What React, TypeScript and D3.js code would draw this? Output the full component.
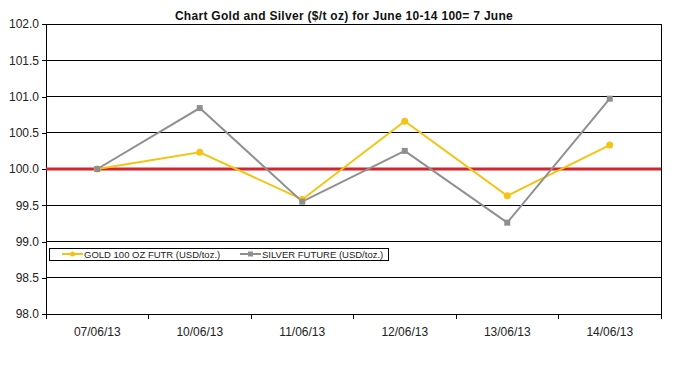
import * as d3 from 'd3'
import { useEffect, useRef } from 'react'

const dates = ['07/06/13', '10/06/13', '11/06/13', '12/06/13', '13/06/13', '14/06/13']
const gold = [100.0, 100.23, 99.58, 100.66, 99.63, 100.33]
const silver = [100.0, 100.84, 99.55, 100.25, 99.26, 100.97]
const yTicks = [98.0, 98.5, 99.0, 99.5, 100.0, 100.5, 101.0, 101.5, 102.0]

const W = 680
const H = 368
const margin = { top: 24, right: 19, bottom: 54, left: 46 }
const goldColor = '#f4c414'
const silverColor = '#8f8f8f'

export default function App() {
    const svgRef = useRef(null) as any

    useEffect(() => {
        const svg = d3.select(svgRef.current)
        svg.selectAll('*').remove()

        const x = d3.scaleBand().domain(dates).range([margin.left, W - margin.right])
        const y = d3.scaleLinear().domain([98, 102]).range([H - margin.bottom, margin.top])
        const cx = (d: string) => (x(d) as number) + x.bandwidth() / 2

        svg.append('rect').attr('width', W).attr('height', H).attr('fill', '#fff')

        // gridlines
        svg.append('g')
            .selectAll('line')
            .data(yTicks)
            .enter().append('line')
            .attr('x1', margin.left).attr('x2', W - margin.right)
            .attr('y1', d => y(d)).attr('y2', d => y(d))
            .attr('stroke', '#000').attr('stroke-width', 1)
            .attr('shape-rendering', 'crispEdges')

        // right border
        svg.append('line')
            .attr('x1', W - margin.right).attr('x2', W - margin.right)
            .attr('y1', margin.top).attr('y2', H - margin.bottom)
            .attr('stroke', '#000').attr('shape-rendering', 'crispEdges')

        const yAxis = d3.axisLeft(y).tickValues(yTicks).tickFormat(d3.format('.1f')).tickSize(4).tickPadding(3)
        const gy = svg.append('g').attr('transform', `translate(${margin.left},0)`).call(yAxis)

        const xAxis = d3.axisBottom(x).tickSize(0).tickPadding(13)
        const gx = svg.append('g').attr('transform', `translate(0,${H - margin.bottom})`).call(xAxis)
        gx.selectAll('.tick').attr('transform', (d: any) => `translate(${cx(d)},0)`)
        // category boundary ticks
        const bounds = dates.map(d => x(d) as number).concat([W - margin.right])
        gx.selectAll('line.bound')
            .data(bounds)
            .enter().append('line')
            .attr('class', 'bound')
            .attr('x1', d => d).attr('x2', d => d)
            .attr('y1', 0).attr('y2', 5)
            .attr('stroke', '#000').attr('shape-rendering', 'crispEdges')

        for (const g of [gx, gy]) {
            g.selectAll('path').attr('stroke', '#000').attr('shape-rendering', 'crispEdges')
            g.selectAll('.tick line').attr('stroke', '#000').attr('shape-rendering', 'crispEdges')
            g.selectAll('text')
                .attr('fill', '#222')
                .style('font-family', 'Liberation Sans, Arial, sans-serif')
                .style('font-size', '12px')
        }

        // baseline at 100
        svg.append('line')
            .attr('x1', margin.left).attr('x2', W - margin.right)
            .attr('y1', y(100)).attr('y2', y(100))
            .attr('stroke', '#d5252c').attr('stroke-width', 3)

        const line = d3.line<number>().x((_, i) => cx(dates[i])).y(d => y(d))

        svg.append('path').datum(gold)
            .attr('d', line).attr('fill', 'none')
            .attr('stroke', goldColor).attr('stroke-width', 2)
        svg.append('path').datum(silver)
            .attr('d', line).attr('fill', 'none')
            .attr('stroke', silverColor).attr('stroke-width', 2)

        svg.selectAll('circle.gold')
            .data(gold)
            .enter().append('circle')
            .attr('class', 'gold')
            .attr('cx', (_, i) => cx(dates[i])).attr('cy', d => y(d))
            .attr('r', 3.5).attr('fill', goldColor)
        svg.selectAll('rect.silver')
            .data(silver)
            .enter().append('rect')
            .attr('class', 'silver')
            .attr('x', (_, i) => cx(dates[i]) - 3).attr('y', d => y(d) - 3)
            .attr('width', 6).attr('height', 6).attr('fill', silverColor)

        // legend
        const lg = svg.append('g').attr('transform', 'translate(49,248)')
        lg.append('rect').attr('width', 339).attr('height', 12)
            .attr('fill', '#fff').attr('stroke', '#000').attr('shape-rendering', 'crispEdges')
        const items = [
            { label: 'GOLD 100 OZ FUTR (USD/toz.)', color: goldColor, x: 13, kind: 'circle' },
            { label: 'SILVER FUTURE (USD/toz.)', color: silverColor, x: 191, kind: 'rect' },
        ]
        items.forEach(it => {
            lg.append('line').attr('x1', it.x).attr('x2', it.x + 21).attr('y1', 6).attr('y2', 6)
                .attr('stroke', it.color).attr('stroke-width', 2)
            if (it.kind === 'circle') {
                lg.append('circle').attr('cx', it.x + 10.5).attr('cy', 6).attr('r', 2.5).attr('fill', it.color)
            } else {
                lg.append('rect').attr('x', it.x + 8).attr('y', 3.5).attr('width', 5).attr('height', 5).attr('fill', it.color)
            }
            lg.append('text').attr('x', it.x + 22).attr('y', 10)
                .text(it.label)
                .attr('fill', '#222')
                .style('font-family', 'Liberation Sans, Arial, sans-serif')
                .style('font-size', '9.5px')
        })

        svg.append('text')
            .attr('x', 344).attr('y', 20)
            .attr('text-anchor', 'middle')
            .text('Chart  Gold and Silver ($/t oz) for June 10-14 100= 7 June')
            .attr('fill', '#111')
            .style('font-family', 'Liberation Sans, Arial, sans-serif')
            .style('font-size', '12px')
            .style('font-weight', 'bold')
            .style('letter-spacing', '0.3px')
    }, [])

    return (
        <div style={{ position: 'fixed', left: 0, top: 0 }}>
            <svg ref={svgRef} width={W} height={H} />
        </div>
    )
}
